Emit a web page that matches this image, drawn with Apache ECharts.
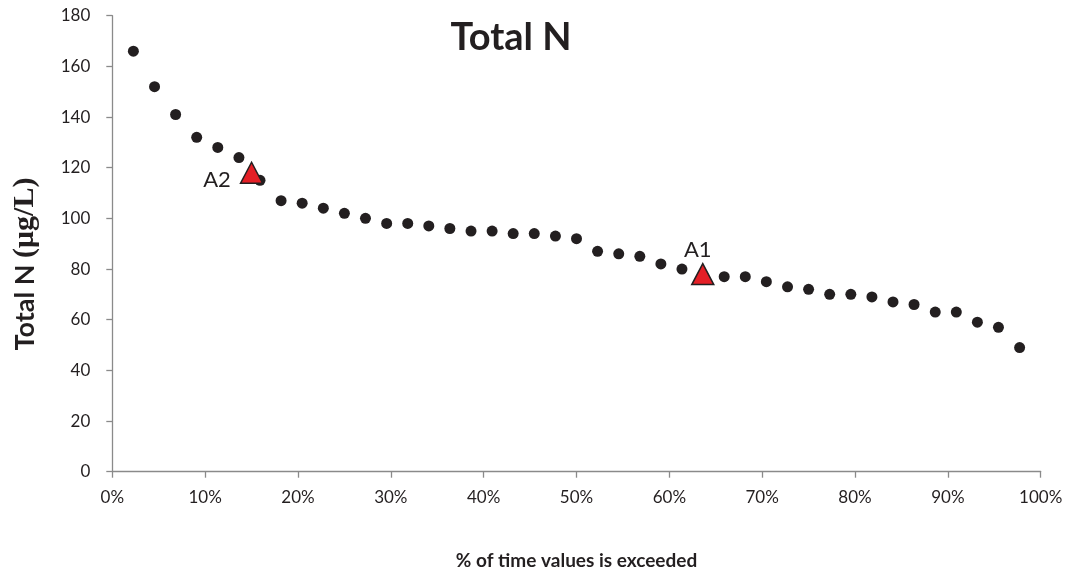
<!DOCTYPE html>
<html>
<head>
<meta charset="utf-8">
<title>Total N</title>
<script src="https://cdn.jsdelivr.net/npm/echarts@6/dist/echarts.min.js"></script>
<style>
  html, body { margin: 0; padding: 0; background: #ffffff; }
  #chart { width: 1070px; height: 577px; }
</style>
</head>
<body>
<div id="chart"></div>
<script>
// Exceedance percentages (% of time) for each sample, ranked
const exceedPct = [2.27, 4.55, 6.82, 9.09, 11.36, 13.64, 15.91, 18.18, 20.45, 22.73,
  25.00, 27.27, 29.55, 31.82, 34.09, 36.36, 38.64, 40.91, 43.18, 45.45,
  47.73, 50.00, 52.27, 54.55, 56.82, 59.09, 61.36, 63.64, 65.91, 68.18,
  70.45, 72.73, 75.00, 77.27, 79.55, 81.82, 84.09, 86.36, 88.64, 90.91,
  93.18, 95.45, 97.73];
// Total N concentrations (µg/L), ranked high to low
const totalN = [166, 152, 141, 132, 128, 124, 115, 107, 106, 104,
  102, 100, 98, 98, 97, 96, 95, 95, 94, 94,
  93, 92, 87, 86, 85, 82, 80, 77, 77, 77,
  75, 73, 72, 70, 70, 69, 67, 66, 63, 63,
  59, 57, 49];
// Named sites
const siteNames = ['A1', 'A2'];
const sitePct = [63.6, 15.0];
const siteN = [78, 118];
// Axis ticks
const yTicks = [0, 20, 40, 60, 80, 100, 120, 140, 160, 180];
const xTicks = [0, 10, 20, 30, 40, 50, 60, 70, 80, 90, 100];

const FONT = 'Lato, "Liberation Sans", sans-serif';
const INK = '#231f20';
const AXIS_GREY = '#8a8a8a';

const curve = exceedPct.map((p, i) => [p, totalN[i]]);
const sites = siteNames.map((name, i) => ({
  name: name,
  value: [sitePct[i], siteN[i]],
  label: name === 'A1'
    ? { position: 'top', distance: 2, offset: [-5, 0] }
    : { position: 'left', distance: 9, offset: [0, 7] }
}));

const chart = echarts.init(document.getElementById('chart'), null, { renderer: 'canvas' });
chart.setOption({
  backgroundColor: '#ffffff',
  animation: false,
  grid: { left: 112.3, right: 29.3, top: 15.7, bottom: 105.3, containLabel: false },
  xAxis: {
    type: 'value',
    min: xTicks[0],
    max: xTicks[xTicks.length - 1],
    interval: xTicks[1] - xTicks[0],
    name: '% of time values is exceeded',
    nameLocation: 'middle',
    nameGap: 80,
    nameTextStyle: { fontFamily: FONT, fontWeight: 'bold', fontSize: 19, color: INK },
    axisLine: { show: true, onZero: false, lineStyle: { color: AXIS_GREY, width: 1.3 } },
    axisTick: { show: true, length: 6, lineStyle: { color: AXIS_GREY, width: 1.3 } },
    axisLabel: { formatter: '{value}%', margin: 17, fontFamily: FONT, fontSize: 17, color: INK },
    splitLine: { show: false }
  },
  yAxis: {
    type: 'value',
    min: yTicks[0],
    max: yTicks[yTicks.length - 1],
    interval: yTicks[1] - yTicks[0],
    axisLine: { show: true, onZero: false, lineStyle: { color: AXIS_GREY, width: 1.3 } },
    axisTick: { show: true, length: 6, lineStyle: { color: AXIS_GREY, width: 1.3 } },
    axisLabel: { margin: 22, fontFamily: FONT, fontSize: 17, color: INK },
    splitLine: { show: false }
  },
  graphic: [
    {
      type: 'text',
      x: 511, y: 38,
      style: {
        text: 'Total N',
        fontFamily: FONT, fontWeight: 'bold', fontSize: 38,
        fill: INK, textAlign: 'center', textVerticalAlign: 'middle'
      }
    },
    {
      type: 'text',
      x: 25, y: 264,
      rotation: Math.PI / 2,
      style: {
        text: '{s|Total N }{u|(μg/L)}',
        textAlign: 'center', textVerticalAlign: 'middle',
        rich: {
          s: { fontFamily: FONT, fontWeight: 'bold', fontSize: 27, fill: INK },
          u: { fontFamily: '"Liberation Serif", serif', fontWeight: 'bold', fontSize: 30, fill: INK }
        }
      }
    }
  ],
  series: [
    {
      name: 'Total N',
      type: 'scatter',
      data: curve,
      symbol: 'circle',
      symbolSize: 11,
      itemStyle: { color: INK, opacity: 1 },
      emphasis: { disabled: true },
      z: 2
    },
    {
      name: 'Sites',
      type: 'scatter',
      data: sites,
      symbol: 'triangle',
      symbolSize: [22, 21],
      itemStyle: { color: '#e41f26', borderColor: INK, borderWidth: 1.5, opacity: 1 },
      emphasis: { disabled: true },
      label: {
        show: true,
        formatter: '{b}',
        fontFamily: FONT, fontSize: 22, color: INK
      },
      z: 3
    }
  ]
});
</script>
</body>
</html>
